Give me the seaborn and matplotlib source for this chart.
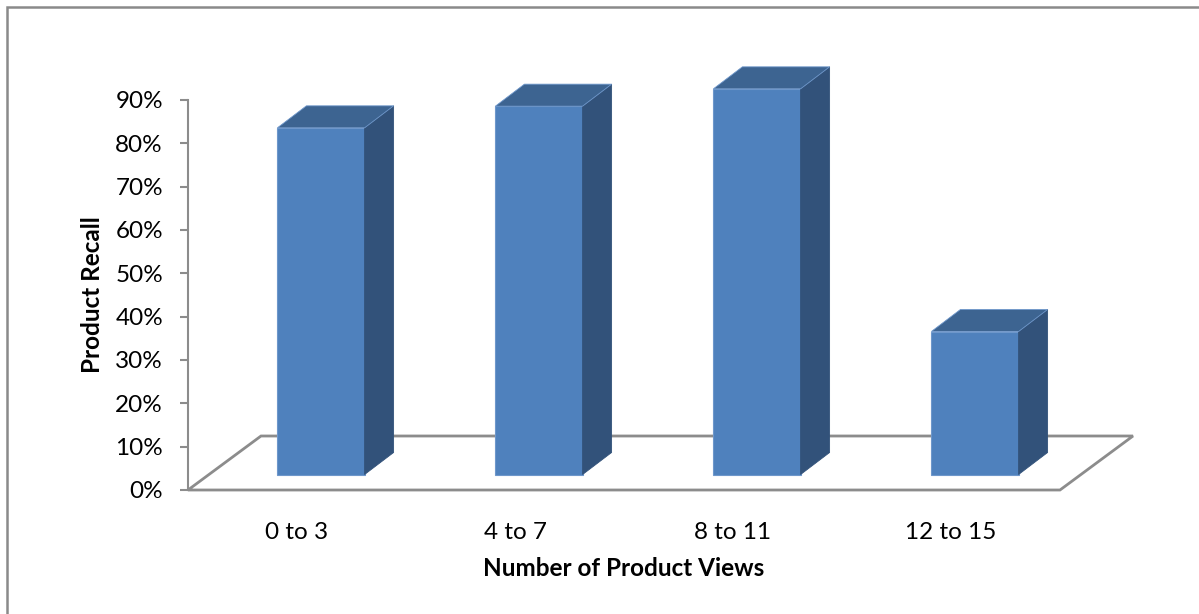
import matplotlib
matplotlib.use("Agg")
import matplotlib.pyplot as plt
from matplotlib.patches import Polygon, Rectangle
from matplotlib.ticker import FuncFormatter
import seaborn as sns
import pandas as pd

# Data
categories = ["0 to 3", "4 to 7", "8 to 11", "12 to 15"]
recall = [80, 85, 89, 33]
y_ticks = [0, 10, 20, 30, 40, 50, 60, 70, 80, 90]

df = pd.DataFrame({"views": categories, "recall": recall})

sns.set_theme(style="white")
plt.rcParams["font.family"] = ["Lato", "DejaVu Sans"]

FRONT = "#4F81BD"
TOP = "#3D6491"
SIDE = "#32527A"
EDGE = "#6E97CB"
GRID = "#8C8C8C"
FS = 17.5

W, H, DPI = 1199, 614, 100
fig = plt.figure(figsize=(W / DPI, H / DPI), dpi=DPI)

# axes box in pixels: left 188, right 1060, top 100, bottom 490
L, R, T, B = 188, 1060, 100, 490
ax = fig.add_axes([L / W, (H - B) / H, (R - L) / W, (B - T) / H])
ax.set_xlim(-0.5, 3.5)
ax.set_ylim(0, 90)

px_x = (R - L) / 4.0      # pixels per category unit
px_y = (B - T) / 90.0     # pixels per percent


def dx(p):
    return p / px_x


def dy(p):
    return p / px_y


# floor (drawn first so bars cover its back edge)
FD_X, FD_Y = 73, 54
floor = Polygon([(-0.5, 0), (3.5, 0), (3.5 + dx(FD_X), dy(FD_Y)), (-0.5 + dx(FD_X), dy(FD_Y))],
                closed=True, facecolor="white", edgecolor=GRID, linewidth=2.0,
                clip_on=False, zorder=1)
ax.add_patch(floor)

sns.barplot(data=df, x="views", y="recall", color=FRONT, saturation=1,
            width=0.4, ax=ax, zorder=3, edgecolor=EDGE, linewidth=0.8)

# front faces sit a little inside the floor; add top and side faces
OFF_X, OFF_Y = 24, 15.5
DEP_X, DEP_Y = 29, 22
bars = [p for p in ax.patches if isinstance(p, Rectangle)]
for bar in bars:
    x0 = bar.get_x() + dx(OFF_X)
    w = bar.get_width()
    h = bar.get_height()
    y0 = dy(OFF_Y)
    bar.set_x(x0)
    bar.set_y(y0)
    bar.set_clip_on(False)
    x1 = x0 + w
    y1 = y0 + h
    top = Polygon([(x0, y1), (x1, y1), (x1 + dx(DEP_X), y1 + dy(DEP_Y)), (x0 + dx(DEP_X), y1 + dy(DEP_Y))],
                  closed=True, facecolor=TOP, edgecolor=EDGE, linewidth=0.6,
                  clip_on=False, zorder=3)
    side = Polygon([(x1, y0), (x1 + dx(DEP_X), y0 + dy(DEP_Y)), (x1 + dx(DEP_X), y1 + dy(DEP_Y)), (x1, y1)],
                   closed=True, facecolor=SIDE, edgecolor=SIDE, linewidth=0.6,
                   clip_on=False, zorder=3)
    ax.add_patch(side)
    ax.add_patch(top)

# axes styling
for s in ["top", "right", "bottom"]:
    ax.spines[s].set_visible(False)
ax.spines["left"].set_color(GRID)
ax.spines["left"].set_linewidth(1.5)
ax.set_yticks(y_ticks)
ax.yaxis.set_major_formatter(FuncFormatter(lambda v, _: f"{int(v)}%"))
ax.tick_params(axis="y", which="major", left=True, length=6, width=1.5, color=GRID,
               pad=12, labelsize=FS, labelcolor="black")
ax.tick_params(axis="x", bottom=False, pad=17, labelsize=FS, labelcolor="black")

ax.set_xlabel("Number of Product Views", fontsize=FS, fontweight="bold", color="black")
ax.set_ylabel("Product Recall", fontsize=FS, fontweight="bold", color="black")
ax.xaxis.set_label_coords(0.5, (B - 568) / (B - T), transform=ax.transAxes)
ax.xaxis.label.set_va("center")
ax.yaxis.set_label_coords((93 - L) / (R - L), 0.5, transform=ax.transAxes)
ax.yaxis.label.set_va("center")
ax.patch.set_alpha(0)

# chart frame
frame = Rectangle((6.5 / W, -0.05), 1.2, (H - 6.5) / H + 0.05, transform=fig.transFigure,
                  fill=False, edgecolor="#8A8A8A", linewidth=1.8, clip_on=False)
fig.patches.append(frame)

fig.savefig("out.png", dpi=DPI)
